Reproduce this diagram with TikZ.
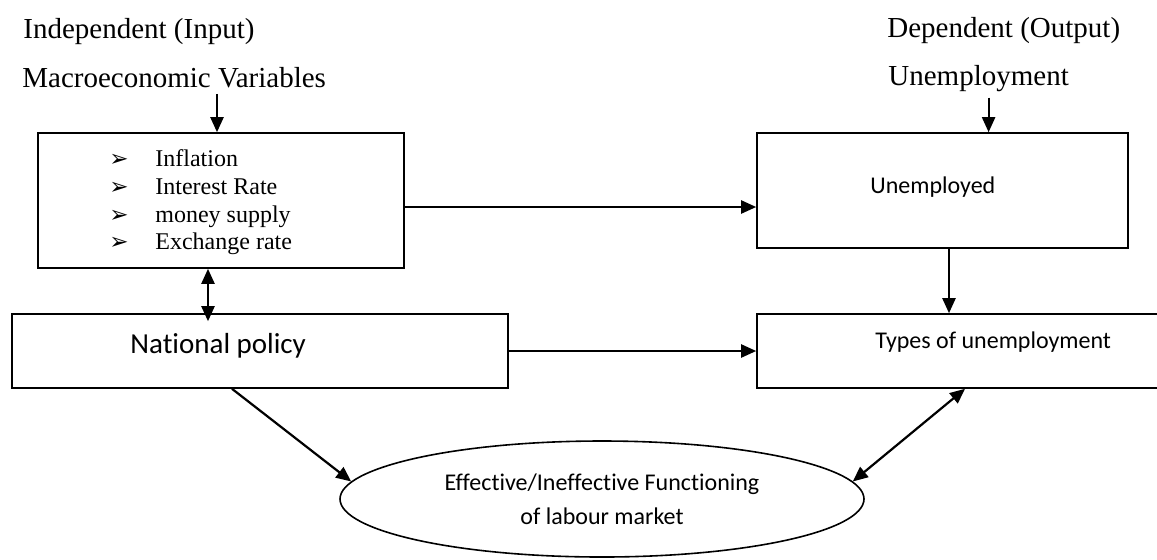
\documentclass[tikz,border=0pt]{standalone}
\usepackage{fontspec}
\setmainfont{Liberation Serif}
\newfontfamily\calibri[Ligatures=NoCommon]{Carlito}
\newfontfamily\dingfont{DejaVu Sans}
\usetikzlibrary{positioning, shapes.geometric, arrows.meta}

\begin{document}
\begin{tikzpicture}[x=0.5pt, y=-0.5pt,
    box/.style={draw, line width=0.8pt, inner sep=0pt},
    lbl/.style={inner sep=0pt, anchor=base west},
    arr/.style={-{Triangle[length=7.5pt, width=6.5pt]}, line width=1.1pt},
    dbl/.style={{Triangle[length=7.5pt, width=6.5pt]}-{Triangle[length=7.5pt, width=6.5pt]}, line width=1.1pt}]
    \useasboundingbox (0,0) rectangle (1157,559);

    % headings
    \node[lbl, font=\fontsize{14.5}{17}\selectfont] (intitle) at (23,38) {Independent (Input)};
    \node[lbl, font=\fontsize{14.5}{17}\selectfont] (macro) at (22,87) {Macroeconomic Variables};
    \node[lbl, font=\fontsize{14.5}{17}\selectfont] (outtitle) at (887,37) {Dependent (Output)};
    \node[lbl, font=\fontsize{14.5}{17}\selectfont] (unemptitle) at (888,85) {Unemployment};

    % boxes
    \node[box, minimum width=183pt, minimum height=67.5pt] (vars) at (221,200.5) {};
    \node[box, minimum width=185.5pt, minimum height=57.5pt] (unemp) at (942.5,190.5) {};
    \node[box, minimum width=247.75pt, minimum height=37pt] (policy) at (260,351) {};
    \node[box, minimum width=206.5pt, minimum height=37pt] (types) at (963.5,351) {};
    \node[box, ellipse, minimum width=262pt, minimum height=58pt, align=center,
          font=\calibri\fontsize{12}{17}\selectfont] (eff) at (602,499)
      {Effective/Ineffective Functioning\\of labour market};

    % texts in the boxes
    \foreach \y/\txt in {166/Inflation, 194/Interest Rate, 222/money supply, 249/Exchange rate} {
      \node[lbl, font=\dingfont\fontsize{11.5}{12}\selectfont] (b\y) at (109,\y) {➢};
      \node[lbl, font=\fontsize{12}{14}\selectfont] (t\y) at (155,\y) {\txt};
    }
    \node[lbl, font=\calibri\fontsize{12}{14}\selectfont] (unemptext) at (870,193) {Unemployed};
    \node[lbl, font=\calibri\fontsize{14.5}{17}\selectfont] (policytext) at (130,353) {National policy};
    \node[lbl, font=\calibri\fontsize{12}{14}\selectfont] (typestext) at (875,348) {Types of unemployment};

    % connectors
    \draw[arr, shorten <=3pt] (macro.south -| vars.north) ++(-4,0) -- ([xshift=-2pt]vars.north);
    \draw[arr, shorten <=3pt] ([xshift=5pt]unemptitle.south) -- ([xshift=5pt]unemptitle.south |- unemp.north);
    \draw[arr] ([yshift=-3.25pt]vars.east) -- ([yshift=-3.25pt]vars.east -| unemp.west);
    \draw[dbl, shorten >=-4pt] ([xshift=-6.5pt]vars.south) -- ([xshift=-6.5pt]vars.south |- policy.north);
    \draw[arr] ([xshift=3.25pt]unemp.south) -- ([xshift=3.25pt]unemp.south |- types.north);
    \draw[arr] (policy.east) -- (policy.east -| types.west);
    \draw[arr] ([xshift=-14pt]policy.south) -- (eff.176);
    \draw[dbl] ([xshift=0.75pt]types.south) -- (eff.4);
\end{tikzpicture}
\end{document}
